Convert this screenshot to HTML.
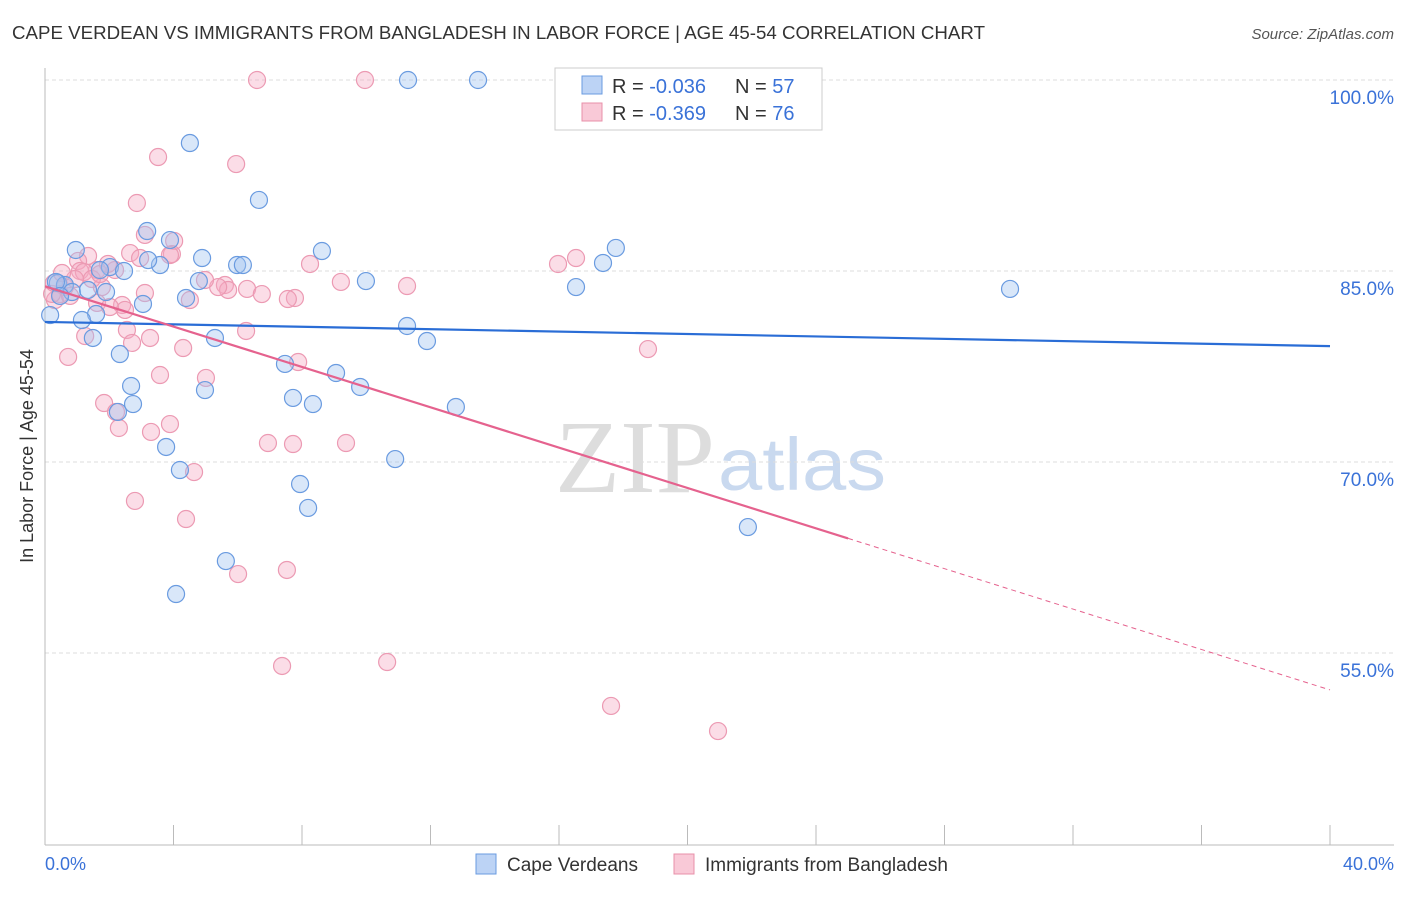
<!DOCTYPE html>
<html><head><meta charset="utf-8"><style>
body{margin:0;background:#fff;font-family:"Liberation Sans",sans-serif}
</style></head><body>
<svg width="1406" height="892" xmlns="http://www.w3.org/2000/svg" font-family="Liberation Sans, sans-serif">
<text x="12" y="39" font-size="18" fill="#333" textLength="973" lengthAdjust="spacingAndGlyphs">CAPE VERDEAN VS IMMIGRANTS FROM BANGLADESH IN LABOR FORCE | AGE 45-54 CORRELATION CHART</text>
<text x="1394" y="39" font-size="15" fill="#555" text-anchor="end" font-style="italic">Source: ZipAtlas.com</text>
<text x="555" y="492" font-size="104" fill="#ddd" textLength="160" lengthAdjust="spacingAndGlyphs" font-family="Liberation Serif, serif">ZIP</text>
<text x="718" y="490" font-size="74" fill="#c9d9ef" textLength="168" lengthAdjust="spacingAndGlyphs">atlas</text>
<g id="grid"></g>
<line x1="45" y1="68" x2="45" y2="845" stroke="#bbb"/>
<line x1="45" y1="845" x2="1394" y2="845" stroke="#bbb"/>
<g id="xticks"></g>
<text x="33" y="456" font-size="18" fill="#333" text-anchor="middle" transform="rotate(-90 33 456)">In Labor Force | Age 45-54</text>
<text x="45" y="870" font-size="18" fill="#3a72d8">0.0%</text>
<text x="1394" y="870" font-size="18" fill="#3a72d8" text-anchor="end">40.0%</text>
<g id="pts"></g>
<g id="lines"></g>
<g>
<rect x="555" y="68" width="267" height="62" fill="#fff" stroke="#ccc"/>
<rect x="582" y="76" width="20" height="18" fill="#bcd3f5" stroke="#6a9be0"/>
<rect x="582" y="103" width="20" height="18" fill="#f9c9d7" stroke="#e890aa"/>
<text x="612" y="93" font-size="20" fill="#333">R = <tspan fill="#3a72d8">-0.036</tspan></text>
<text x="735" y="93" font-size="20" fill="#333">N = <tspan fill="#3a72d8">57</tspan></text>
<text x="612" y="120" font-size="20" fill="#333">R = <tspan fill="#3a72d8">-0.369</tspan></text>
<text x="735" y="120" font-size="20" fill="#333">N = <tspan fill="#3a72d8">76</tspan></text>
</g>
<g>
<rect x="476" y="854" width="20" height="20" fill="#bcd3f5" stroke="#6a9be0"/>
<text x="507" y="871" font-size="19" fill="#333">Cape Verdeans</text>
<rect x="674" y="854" width="20" height="20" fill="#f9c9d7" stroke="#e890aa"/>
<text x="705" y="871" font-size="19" fill="#333">Immigrants from Bangladesh</text>
</g>
</svg>
<script>
const yTicks=[100,85,70,55];
const xTickVals=[0,4,8,12,16,20,24,28,32,36,40];
const blueX=[4.51,11.3,13.48,6.66,3.18,3.89,8.62,17.77,17.37,0.96,4.89,5.98,6.16,3.58,3.21,2.02,2.46,1.71,0.4,0.62,0.84,4.79,9.99,16.53,30.04,4.39,3.05,1.9,1.59,1.15,0.16,11.27,5.29,1.49,11.89,2.33,7.47,9.06,2.68,9.81,4.98,7.72,8.34,2.74,2.27,12.79,3.77,10.9,4.2,7.94,8.19,21.88,5.63,4.08,0.34,1.34,0.47];
const blueY=[95.05,100,100,90.58,88.14,87.43,86.57,86.81,85.63,86.65,86.02,85.47,85.47,85.47,85.86,85.31,85.0,85.08,84.06,83.9,83.35,84.21,84.21,83.74,83.59,82.88,82.41,83.35,81.62,81.15,81.54,80.68,79.74,79.74,79.5,78.48,77.7,76.99,75.97,75.89,75.65,75.03,74.55,74.55,73.93,74.32,71.18,70.23,69.37,68.27,66.39,64.89,62.22,59.63,84.14,83.51,83.04];
const pinkX=[6.6,9.96,3.52,5.95,2.86,3.11,4.02,1.34,2.65,3.95,2.96,1.03,1.62,2.18,1.09,8.25,15.97,16.53,9.21,11.27,6.29,5.6,5.7,5.39,6.75,4.51,7.78,7.56,3.11,1.62,2.4,2.49,2.02,0.47,0.31,1.21,1.77,2.55,1.25,3.27,2.71,6.26,4.3,18.77,0.72,7.88,3.58,5.01,1.84,2.21,2.3,3.89,3.3,6.94,7.72,9.37,4.64,2.8,4.39,6.01,7.53,7.38,10.65,17.62,20.95,0.62,0.93,1.46,0.22,0.78,1.71,1.96,0.28,0.53,3.89,4.98];
const pinkY=[100,100,93.95,93.4,90.34,87.83,87.36,86.18,86.41,86.33,86.02,85.79,85.08,85.08,85.0,85.55,85.55,86.02,84.14,83.82,83.59,83.9,83.51,83.74,83.19,82.72,82.88,82.8,83.27,82.49,82.33,81.94,82.17,83.19,82.72,84.92,83.74,80.37,79.89,79.74,79.35,80.29,78.95,78.87,78.25,77.85,76.83,76.6,74.63,73.93,72.67,72.98,72.36,71.49,71.41,71.49,69.21,66.94,65.52,61.2,61.52,53.98,54.29,50.84,48.87,83.74,84.37,84.37,83.2,83.04,84.76,85.55,84.06,84.84,86.25,84.29];
const blueLine=[[0,81.0],[40,79.1]];
const pinkLine=[[0,83.8],[25,64.0],[40,52.1]];
const NS="http://www.w3.org/2000/svg";
const X=v=>45+v*32.125, Y=v=>80+(100-v)*12.733;
function mk(t,a,p){const e=document.createElementNS(NS,t);for(const k in a)e.setAttribute(k,a[k]);p.appendChild(e);return e;}
const grid=document.getElementById('grid');
yTicks.forEach(t=>{
 const l=mk('line',{x1:45,x2:1394,y1:Y(t),y2:Y(t),stroke:'#ddd','stroke-dasharray':'4 3'},grid);
 
 
 const tx=mk('text',{x:1394,y:Y(t)+24,'font-size':19,fill:'#3a72d8','text-anchor':'end'},grid);
 tx.textContent=t.toFixed(1)+'%';
 
 
});
const xt=document.getElementById('xticks');
xTickVals.forEach(t=>{
 const l=mk('line',{x1:X(t),x2:X(t),y1:825,y2:845,stroke:'#bbb'},xt);
 
 
});
const pts=document.getElementById('pts');
pinkX.forEach((x,i)=>{
 const c=mk('circle',{cx:X(x),cy:Y(pinkY[i]),r:8.5,fill:'rgba(245,170,195,0.4)',stroke:'#ec9ab3','stroke-width':1.2},pts);
 
 
});
blueX.forEach((x,i)=>{
 const c=mk('circle',{cx:X(x),cy:Y(blueY[i]),r:8.5,fill:'rgba(160,195,240,0.4)',stroke:'#6a9be0','stroke-width':1.2},pts);
 
 
});
const ln=document.getElementById('lines');
const b=mk('line',{x1:X(blueLine[0][0]),y1:Y(blueLine[0][1]),x2:X(blueLine[1][0]),y2:Y(blueLine[1][1]),stroke:'#2a6dd6','stroke-width':2.2},ln);


const p1=mk('line',{x1:X(pinkLine[0][0]),y1:Y(pinkLine[0][1]),x2:X(pinkLine[1][0]),y2:Y(pinkLine[1][1]),stroke:'#e5628e','stroke-width':2.2},ln);


const p2=mk('line',{x1:X(pinkLine[1][0]),y1:Y(pinkLine[1][1]),x2:X(pinkLine[2][0]),y2:Y(pinkLine[2][1]),stroke:'#e5628e','stroke-width':1,'stroke-dasharray':'5 4'},ln);


</script>
</body></html>
